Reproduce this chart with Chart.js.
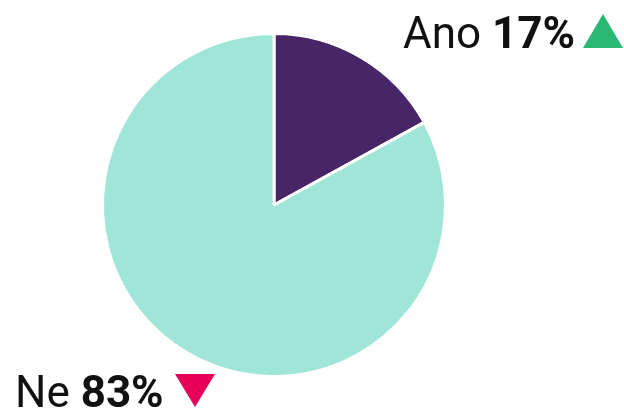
<!DOCTYPE html>
<html>
<head>
<meta charset="utf-8">
<script src="https://cdn.jsdelivr.net/npm/chart.js@4"></script>
<style>
  html, body { margin: 0; padding: 0; background: #fff; }
  #wrap { width: 624px; height: 413px; position: relative; }
</style>
</head>
<body>
<div id="wrap"><canvas id="pie"></canvas></div>
<script>
const labels = ['Ano', 'Ne'];
const values = [17, 83];
const colors = ['#472566', '#a0e6d8'];
const arrowColors = ['#2db774', '#e6005a'];

const FONT = "Roboto, 'Noto Sans', sans-serif";

// popisky s procenty a šipkou
const labelPlugin = {
  id: 'answerLabels',
  afterDraw(chart) {
    const ctx = chart.ctx;
    const spots = [
      { x: 403, y: 48, ax: 583, up: true },
      { x: 15, y: 407, ax: 175, up: false }
    ];
    ctx.save();
    ctx.textBaseline = 'alphabetic';
    labels.forEach((lab, i) => {
      const s = spots[i];
      let x = s.x;
      ctx.fillStyle = '#111';
      ctx.font = '400 44px ' + FONT;
      ctx.fillText(lab + ' ', x, s.y);
      x += ctx.measureText(lab + ' ').width;
      ctx.font = '700 44px ' + FONT;
      ctx.fillText(values[i] + '%', x, s.y);
      const a = s.ax;
      ctx.fillStyle = arrowColors[i];
      ctx.beginPath();
      if (s.up) {
        ctx.moveTo(a, s.y); ctx.lineTo(a + 40, s.y); ctx.lineTo(a + 20, s.y - 34);
      } else {
        ctx.moveTo(a, s.y - 33); ctx.lineTo(a + 40, s.y - 33); ctx.lineTo(a + 20, s.y);
      }
      ctx.closePath();
      ctx.fill();
    });
    ctx.restore();
  }
};

new Chart(document.getElementById('pie').getContext('2d'), {
  type: 'pie',
  data: {
    labels,
    datasets: [{
      data: values,
      backgroundColor: colors,
      borderColor: '#fff',
      borderWidth: 3
    }]
  },
  options: {
    responsive: true,
    maintainAspectRatio: false,
    animation: false,
    layout: { padding: { left: 101, right: 177, top: 32, bottom: 35 } },
    plugins: { legend: { display: false }, tooltip: { enabled: false } }
  },
  plugins: [labelPlugin]
});
</script>
</body>
</html>
